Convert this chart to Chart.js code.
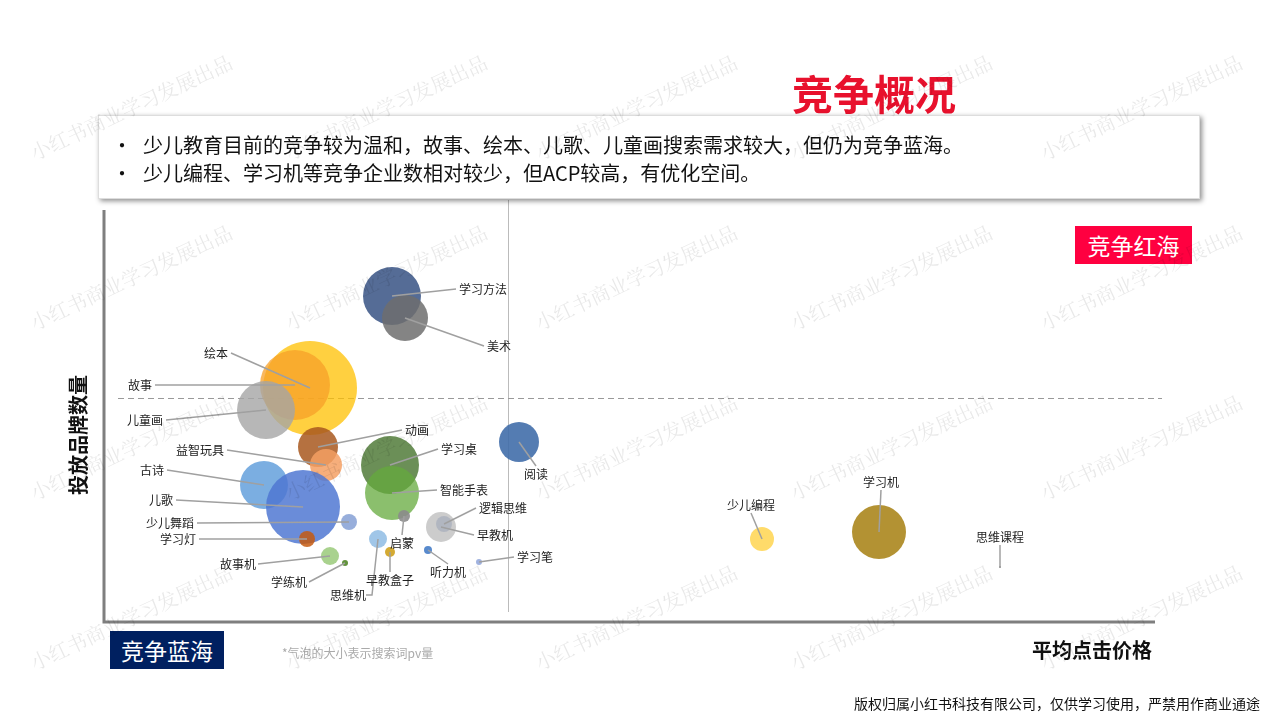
<!DOCTYPE html>
<html><head><meta charset="utf-8">
<script src="https://cdn.jsdelivr.net/npm/chart.js@4"></script>
<style>
body{margin:0;width:1280px;height:720px;background:#fff;font-family:"Noto Sans CJK SC","Noto Sans",sans-serif;position:relative;overflow:hidden}
#c{position:absolute;left:0;top:0}
.t{position:absolute;white-space:nowrap}
.wm{position:absolute;white-space:nowrap;font-size:20px;color:rgba(0,0,0,0.09);transform:rotate(-25deg);transform-origin:left top;font-family:"Noto Serif CJK SC","Noto Sans CJK SC"}
</style></head><body>
<canvas id="c" width="1280" height="720"></canvas>
<div class="t" style="left:792px;top:62px;font-size:41px;font-weight:bold;color:#e8112d">竞争概况</div>
<div class="t" style="left:98px;top:115px;width:1100px;height:82px;box-shadow:2px 2px 5px rgba(0,0,0,0.45);border:1px solid #ddd;background:rgba(255,255,255,0.9)"></div>
<div class="t" style="left:112px;top:130px;font-size:20px;color:#111">•<span style="position:absolute;left:31px">少儿教育目前的竞争较为温和，故事、绘本、儿歌、儿童画搜索需求较大，但仍为竞争蓝海。</span></div>
<div class="t" style="left:112px;top:158px;font-size:20px;color:#111">•<span style="position:absolute;left:31px">少儿编程、学习机等竞争企业数相对较少，但ACP较高，有优化空间。</span></div>
<div class="t" style="left:1075px;top:226px;width:117px;height:38px;background:#ff0040;color:#fff;font-size:23px;line-height:38px;text-align:center">竞争红海</div>
<div class="t" style="left:110px;top:631px;width:114px;height:38px;background:#002060;color:#fff;font-size:23px;line-height:38px;text-align:center">竞争蓝海</div>
<div class="t" style="left:282px;top:644px;font-size:12px;color:#aaa">*气泡的大小表示搜索词pv量</div>
<div class="t" style="left:1032px;top:635px;font-size:20px;font-weight:bold;color:#111">平均点击价格</div>
<div class="t" style="left:77px;top:435px;font-size:20px;font-weight:bold;color:#111;transform:translate(-50%,-50%) rotate(-90deg)">投放品牌数量</div>
<div class="t" style="right:20px;top:693px;font-size:14px;color:#111">版权归属小红书科技有限公司，仅供学习使用，严禁用作商业通途</div>
<div id="wms"></div>
<script>
const names=["学习方法","美术","绘本","故事","儿童画","动画","益智玩具","古诗","儿歌","少儿舞蹈","学习灯","故事机","学练机","学习桌","智能手表","启蒙","思维机","早教盒子","逻辑思维","早教机","听力机","学习笔","阅读","少儿编程","学习机","思维课程"];
const avgCpc=[288,301,206,191,162,214,222,160,199,245,203,226,241,286,288,300,274,286,340,337,324,375,415,658,775,896];
const brandCount=[326,304,234,237,212,175,157,137,115,100,83,66,59,157,129,106,83,70,98,95,72,60,180,83,90,55];
const pvSize=[29,23,47,35,29,20,16,24,37,8,8,9,3,29,27,6,9,5,8,15,4,3,20,12,27,1];
const colors=["rgba(62,88,135,0.88)","rgba(110,110,110,0.85)","rgba(255,192,0,0.75)","rgba(247,160,40,0.75)","rgba(165,165,165,0.8)","rgba(168,88,30,0.85)","rgba(244,160,100,0.85)","rgba(100,160,220,0.85)","rgba(80,120,210,0.85)","rgba(140,165,215,0.9)","rgba(197,90,17,0.85)","rgba(160,205,130,0.9)","rgba(90,140,50,0.95)","rgba(70,115,45,0.8)","rgba(100,170,60,0.75)","rgba(140,140,140,0.9)","rgba(150,192,230,0.9)","rgba(210,165,40,0.95)","rgba(60,95,170,0.9)","rgba(195,195,195,0.85)","rgba(70,125,200,0.9)","rgba(150,170,220,0.9)","rgba(65,110,170,0.9)","rgba(255,215,90,0.9)","rgba(175,140,40,0.95)","rgba(120,120,120,0.9)"];
const lab={"学习方法":[67,-7,"l"],"美术":[82,28,"l"],"绘本":[-82,-35,"r"],"故事":[-143,0,"r"],"儿童画":[-103,10,"r"],"动画":[87,-17,"l"],"益智玩具":[-102,-15,"r"],"古诗":[-100,-15,"r"],"儿歌":[-130,-7,"r"],"少儿舞蹈":[-155,1,"r"],"学习灯":[-111,0,"r"],"故事机":[-72,8,"l2"],"学练机":[-36,19,"l2"],"学习桌":[51,-16,"l"],"智能手表":[48,-3,"l"],"启蒙":[-2,27,"c"],"思维机":[-8,55,"m"],"早教盒子":[0,28,"c"],"逻辑思维":[35,-16,"l"],"早教机":[36,8,"l"],"听力机":[20,22,"c"],"学习笔":[38,-5,"l"],"阅读":[17,32,"c"],"少儿编程":[-11,-34,"c"],"学习机":[2,-50,"c"],"思维课程":[0,-30,"c"]};
const wm=document.getElementById('wms');
for(const y of [140,310,480,650])for(const x of [25,280,530,785,1035]){const d=document.createElement('div');d.className='wm';d.style.left=x+'px';d.style.top=y+'px';d.textContent='小红书商业学习发展出品';wm.appendChild(d);}
const deco={id:'deco',beforeDatasetsDraw(ch){const c=ch.ctx,a=ch.chartArea;c.save();
c.strokeStyle='#bbb';c.lineWidth=1;c.beginPath();c.moveTo(508.5,200);c.lineTo(508.5,612);c.stroke();
c.setLineDash([6,4]);c.strokeStyle='#999';c.beginPath();c.moveTo(118,398.5);c.lineTo(1162,398.5);c.stroke();c.setLineDash([]);
c.strokeStyle='#7f7f7f';c.lineWidth=3;c.beginPath();c.moveTo(a.left,a.top);c.lineTo(a.left,a.bottom);c.lineTo(a.right,a.bottom);c.stroke();c.restore();},
afterDatasetsDraw(ch){const c=ch.ctx,xs=ch.scales.x,ys=ch.scales.y;c.save();c.font='12px "Noto Sans CJK SC"';c.fillStyle='#222';c.strokeStyle='#a0a0a0';c.lineWidth=1.5;c.textBaseline='middle';
names.forEach((n,i)=>{const px=xs.getPixelForValue(avgCpc[i]),py=ys.getPixelForValue(brandCount[i]);const [dx,dy,al]=lab[n];const tx=px+dx,ty=py+dy;
c.beginPath();
if(al==='m'){c.textAlign='right';c.fillText(n,tx-4,ty+1);c.moveTo(tx-4,ty+1);c.lineTo(tx+2,ty+1);c.lineTo(px,py);c.stroke();return;}
let ex,ey;if(al==='l'){ex=tx-3;ey=ty;c.textAlign='left';c.fillText(n,tx,ty);}else if(al==='l2'){c.textAlign='right';c.fillText(n,tx-2,ty);ex=tx;ey=ty;}else if(al==='r'){ex=tx+3;ey=ty;c.textAlign='right';c.fillText(n,tx,ty);}else{ex=tx;ey=ty+(dy<0?8:-8);c.textAlign='center';c.fillText(n,tx,ty);}
c.moveTo(ex,ey);c.lineTo(px,py);c.stroke();});c.restore();}};
new Chart(document.getElementById('c'),{type:'bubble',
data:{datasets:[{data:names.map((n,i)=>({x:avgCpc[i],y:brandCount[i],r:pvSize[i]})),backgroundColor:colors,borderWidth:0,hoverRadius:0}]},
options:{responsive:false,animation:false,events:[],layout:{padding:{left:104,right:125,top:210,bottom:98}},
plugins:{legend:{display:false},tooltip:{enabled:false}},
scales:{x:{display:false,min:0,max:1051},y:{display:false,min:0,max:412}}},plugins:[deco]});
</script></body></html>
